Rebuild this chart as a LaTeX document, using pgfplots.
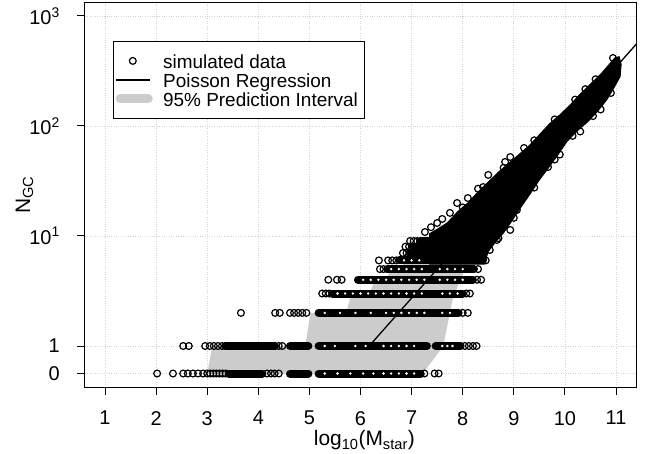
\documentclass[border=0pt]{standalone}
\usepackage{fontspec}
\setmainfont{Liberation Sans}
\usepackage{pgfplots}
\pgfplotsset{compat=1.18}
\definecolor{band}{RGB}{204,204,204}
\definecolor{gridc}{RGB}{211,211,211}
\begin{document}
\begin{tikzpicture}
\useasboundingbox (-85bp,-67bp) rectangle (567bp,387bp);
\begin{axis}[
  scale only axis, width=551bp, height=384bp,
  xmin=0.6086, xmax=11.391, ymin=-0.3727, ymax=3.118,
  axis line style={line width=1bp, black},
  xtick={1,2,3,4,5,6,7,8,9,10,11},
  xticklabels={1,2,3,4,5,6,7,8,9,10,11},
  ytick={-0.25,0,1,2,3},
  yticklabels={0,1,10\textsuperscript{1},10\textsuperscript{2},10\textsuperscript{3}},
  xtick pos=left, ytick pos=left,
  tick align=outside, major tick length=8bp,
  tick style={black, line width=1bp},
  grid=major, major grid style={gridc, dotted, line width=0.8bp},
  ticklabel style={font=\fontsize{20}{24}\selectfont, inner sep=0pt},
  xticklabel style={anchor=north, yshift=-16bp},
  yticklabel style={anchor=east, xshift=-17bp},
  label style={font=\fontsize{21}{25}\selectfont, inner sep=0pt},
  xlabel={log\textsubscript{10}(M\textsubscript{star})},
  ylabel={N\textsubscript{GC}},
  xlabel style={at={(axis description cs:0.507,-0.1536)}, anchor=base},
  ylabel style={at={(axis description cs:-0.0998,0.5)}, anchor=base},
  legend style={at={(axis description cs:0.0508,0.901)}, anchor=north west,
    draw=black, line width=0.8bp, fill=white, inner xsep=0pt, inner ysep=10bp,
    row sep=0pt, column sep=10bp, font=\fontsize{19}{22}\selectfont,
    nodes={inner sep=0pt}},
  legend cell align=left,
  unbounded coords=jump,
]
\addlegendimage{legend image code/.code={\path (-2bp,0) (37bp,0); \draw[black, line width=1.2bp] (17bp,0) circle[radius=3.4bp];}}
\addlegendentry{\rule[-2.5bp]{0pt}{20bp}simulated data}
\addlegendimage{legend image code/.code={\path (-2bp,0) (37bp,0); \draw[black, line width=1.2bp] (0bp,0) -- (34bp,0);}}
\addlegendentry{\rule[-2.5bp]{0pt}{20bp}Poisson Regression}
\addlegendimage{legend image code/.code={\path (-2bp,0) (37bp,0); \draw[band, line width=9bp, line cap=round] (4.5bp,0) -- (32.5bp,0);}}
\addlegendentry{\rule[-2.5bp]{0pt}{20bp}95\% Prediction Interval\kern7bp}

% 95% prediction interval
\addplot[fill=band, draw=none, forget plot] coordinates {
 (2.0,-0.25) (3.0,-0.25) (3.1,0) (4.92,0) (5.02,0.30103) (5.72,0.30103)
 (5.82,0.47712) (6.18,0.47712) (6.28,0.60206) (6.5,0.60206) (6.6,0.69897)
 (6.78,0.69897) (6.88,0.77815) (7.0,0.8451) (7.15,0.90309) (7.3,0.95424)
 (7.45,1.0) (7.6,1.06) (8.0,1.22) (8.5,1.42) (9.0,1.64) (9.5,1.87)
 (10.0,2.1) (10.5,2.34) (11.05,2.6)
 (11.05,2.47) (10.5,2.2) (10.0,1.93) (9.5,1.66) (9.0,1.38) (8.5,1.07)
 (8.2,0.85) (7.95,0.6) (7.8,0.42) (7.62,0.0) (7.22,-0.25)
} -- cycle;

% Poisson regression
\addplot[black, line width=1.3bp, forget plot] coordinates {(6.17,0) (11.6,2.851)};

% dense runs of points along the integer counts
\addplot[black, line width=8bp, line cap=round, forget plot] coordinates {
 (3.42,-0.25) (4.08,-0.25) (nan,nan) (4.62,-0.25) (4.98,-0.25) (nan,nan) (5.18,-0.25) (7.18,-0.25) (nan,nan)
 (3.35,0) (4.33,0) (nan,nan) (4.62,0) (4.98,0) (nan,nan) (5.18,0) (7.3,0) (nan,nan) (7.47,0) (7.96,0) (nan,nan)
 (5.18,0.30103) (7.92,0.30103) (nan,nan)
 (5.45,0.47712) (8.0,0.47712) (nan,nan)
 (5.95,0.60206) (8.2,0.60206) (nan,nan)
 (6.52,0.69897) (8.22,0.69897) (nan,nan)
 (6.76,0.77815) (8.38,0.77815) (nan,nan)
 (6.96,0.8451) (7.5,0.8451) (nan,nan)
 (7.02,0.90309) (7.5,0.90309) (nan,nan)
 (7.17,0.95424) (7.5,0.95424)
};

% holes of the open circles showing inside the runs
\addplot[only marks, mark=*, mark size=1bp, mark options={white, draw=none}, forget plot] coordinates {
 (5.3,-0.25) (5.55,-0.25) (5.8,-0.25) (6.05,-0.25) (6.25,-0.25) (6.45,-0.25) (6.6,-0.25) (6.75,-0.25) (6.9,-0.25) (7.05,-0.25)
 (5.3,0) (5.5,0) (5.9,0) (6.1,0) (6.45,0) (6.6,0) (6.75,0) (6.9,0) (7.05,0) (7.6,0) (7.7,0) (7.8,0)
 (5.3,0.30103) (5.6,0.30103) (5.9,0.30103) (6.2,0.30103) (6.5,0.30103) (6.65,0.30103) (6.8,0.30103) (6.95,0.30103) (7.1,0.30103) (7.25,0.30103) (7.6,0.30103) (7.75,0.30103)
 (5.55,0.47712) (5.7,0.47712) (5.85,0.47712) (6.0,0.47712) (6.15,0.47712) (6.3,0.47712) (6.45,0.47712) (6.6,0.47712) (6.75,0.47712) (6.9,0.47712) (7.05,0.47712) (7.2,0.47712) (7.6,0.47712) (7.75,0.47712) (7.9,0.47712)
 (6.05,0.60206) (6.2,0.60206) (6.35,0.60206) (6.5,0.60206) (6.65,0.60206) (6.8,0.60206) (6.95,0.60206) (7.1,0.60206) (7.25,0.60206) (7.55,0.60206) (7.7,0.60206) (7.85,0.60206) (8.0,0.60206)
 (6.6,0.69897) (6.75,0.69897) (6.9,0.69897) (7.05,0.69897) (7.2,0.69897) (7.55,0.69897) (7.7,0.69897) (7.85,0.69897) (8.0,0.69897)
 (6.85,0.77815) (7.0,0.77815) (7.15,0.77815)
};

% dense cloud of points at high mass
\addplot[fill=black, draw=black, line width=1bp, forget plot] coordinates {
 (7.35,0.745) (7.35,1.02) (7.5,1.06) (7.7,1.12) (7.9,1.22) (8.1,1.30) (8.3,1.40)
 (8.5,1.49) (8.7,1.58) (8.9,1.66) (9.1,1.74) (9.3,1.82) (9.5,1.92) (9.7,2.02)
 (9.9,2.1) (10.1,2.19) (10.3,2.29) (10.5,2.38) (10.7,2.47) (10.85,2.55)
 (10.98,2.62) (11.06,2.63) (11.1,2.56) (11.08,2.45) (10.95,2.34) (10.82,2.24)
 (10.65,2.14) (10.45,2.04) (10.25,1.96) (10.04,1.86) (9.88,1.75) (9.71,1.64)
 (9.5,1.51) (9.3,1.37) (9.12,1.25) (8.95,1.13) (8.8,1.03) (8.65,0.95)
 (8.5,0.86) (8.42,0.745)
} -- cycle;

% individual points
\addplot[only marks, mark=o, mark size=3.4bp, mark options={line width=1.2bp, black}, forget plot] coordinates {
 (2.02,-0.25) (2.33,-0.25) (2.53,-0.25) (2.62,-0.25) (2.72,-0.25) (2.82,-0.25) (2.92,-0.25)
 (3.0,-0.25) (3.06,-0.25) (3.12,-0.25) (3.18,-0.25) (3.24,-0.25) (3.3,-0.25) (3.36,-0.25)
 (4.17,-0.25) (4.25,-0.25) (4.32,-0.25) (4.4,-0.25) (7.25,-0.25) (7.45,-0.25) (7.53,-0.25)
 (2.53,0) (2.64,0) (2.96,0) (3.05,0) (3.13,0) (3.21,0) (3.29,0) (4.4,0) (4.47,0)
 (8.04,0) (8.12,0) (8.2,0) (8.27,0)
 (3.66,0.30103) (4.33,0.30103) (4.42,0.30103) (4.62,0.30103) (4.7,0.30103) (4.78,0.30103)
 (4.86,0.30103) (4.94,0.30103) (8.0,0.30103) (8.1,0.30103)
 (5.25,0.47712) (5.32,0.47712) (5.39,0.47712) (8.07,0.47712) (8.14,0.47712)
 (5.37,0.60206) (5.54,0.60206) (5.63,0.60206) (8.28,0.60206) (8.36,0.60206)
 (6.38,0.69897) (6.45,0.69897) (8.3,0.69897)
 (6.36,0.77815) (6.54,0.77815) (6.62,0.77815) (6.7,0.77815) (8.45,0.77815)
 (6.83,0.8451) (6.9,0.8451)
 (6.88,0.90309) (6.95,0.90309)
 (6.97,0.95424) (7.04,0.95424) (7.11,0.95424)
 (7.26,1.036) (7.38,1.08) (7.5,1.118) (7.6,1.155) (7.75,1.21) (7.89,1.3) (8.1,1.345)
 (8.3,1.43) (8.5,1.555) (8.83,1.673) (8.93,1.718) (9.2,1.8) (10.94,2.618)
 (9.06,1.236) (8.93,1.055) (9.67,1.627) (8.67,0.964) (8.53,0.873) (8.4,0.782)
 (9.9,1.74) (10.3,1.95) (10.7,2.15)
 (8.0,1.26) (8.4,1.445) (8.8,1.62) (9.4,1.87) (9.8,2.06) (10.2,2.24) (10.4,2.335) (10.6,2.425)
 (8.7,0.98) (9.0,1.165) (9.4,1.44) (9.8,1.695) (10.15,1.91) (10.55,2.09) (10.9,2.3)
};
\end{axis}
\end{tikzpicture}
\end{document}
